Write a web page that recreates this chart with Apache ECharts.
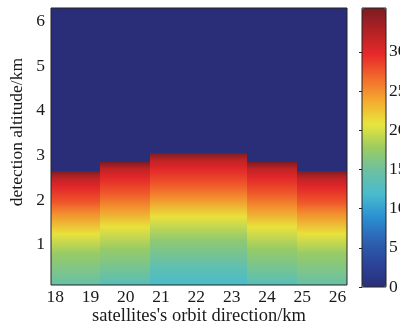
<!DOCTYPE html>
<html>
<head>
<meta charset="utf-8">
<script src="https://cdn.jsdelivr.net/npm/echarts@6/dist/echarts.min.js"></script>
<style>
  html, body { margin: 0; padding: 0; background: #fff; }
  #chart { width: 400px; height: 328px; }
</style>
</head>
<body>
<div id="chart"></div>
<script>
// column edges along orbit (km) and cutoff altitude of each column (km)
var colX0 = [17.88, 19.28, 20.70, 23.44, 24.86];
var colX1 = [19.28, 20.70, 23.44, 24.86, 26.27];
var colTop = [2.66, 2.85, 3.06, 2.85, 2.66];
var profAlt = [
  [0.1, 0.8, 1.25, 1.7, 1.95, 2.3, 2.5, 2.66],
  [0.1, 0.9, 1.4, 1.85, 2.15, 2.5, 2.7, 2.85],
  [0.1, 0.5, 1.1, 1.63, 2.05, 2.35, 2.7, 2.9, 3.06],
  [0.1, 0.9, 1.4, 1.85, 2.15, 2.5, 2.7, 2.85],
  [0.1, 0.8, 1.25, 1.7, 1.95, 2.3, 2.5, 2.66]
];
var profVal = [
  [14.5, 17.5, 21, 25, 27.5, 30, 32, 35.5],
  [13.2, 17.5, 21, 25, 27.5, 30, 32, 35.5],
  [12, 13.8, 17, 21, 25, 27.5, 30, 32, 35.5],
  [13.2, 17.5, 21, 25, 27.5, 30, 32, 35.5],
  [14.5, 17.5, 21, 25, 27.5, 30, 32, 35.5]
];
var aboveVal = 0;   // value above the cutoff
var xTicks = [18, 19, 20, 21, 22, 23, 24, 25, 26];
var yTicks = [1, 2, 3, 4, 5, 6];
var cbTicks = [0, 5, 10, 15, 20, 25, 30];
var xMin = 17.88, xMax = 26.27, yMin = 0.1, yMax = 6.3;
var cbMin = 0, cbMax = 35.6;
var jet = ['#2a2e78', '#2b449a', '#2d62b2', '#2a90d2', '#48bccc', '#6cc0a2', '#9ccc60',
           '#e8e63c', '#f4aa30', '#f26a2c', '#e8282a', '#b22224', '#7a1c22'];

function hexRgb(h) { return [parseInt(h.substr(1, 2), 16), parseInt(h.substr(3, 2), 16), parseInt(h.substr(5, 2), 16)]; }
function cmap(v) {
  var t = Math.max(0, Math.min(1, (v - cbMin) / (cbMax - cbMin))) * (jet.length - 1);
  var i = Math.min(Math.floor(t), jet.length - 2), f = t - i;
  var a = hexRgb(jet[i]), b = hexRgb(jet[i + 1]);
  return 'rgb(' + [0, 1, 2].map(function(k) { return Math.round(a[k] + (b[k] - a[k]) * f); }).join(',') + ')';
}

var font = '"Liberation Serif", "DejaVu Serif", serif';
var ink = '#1a1a1a';
var colData = colX0.map(function(x0, i) { return [x0, colX1[i], i]; });

var chart = echarts.init(document.getElementById('chart'), null, { renderer: 'canvas' });
chart.setOption({
  animation: false,
  backgroundColor: '#fff',
  textStyle: { fontFamily: font },
  grid: [
    { left: 51, right: 53, top: 8, bottom: 43, show: true, borderColor: '#222', borderWidth: 1, z: 10,
      outerBoundsMode: 'none', containLabel: false },
    { left: 362, width: 24, top: 8, height: 279, show: true, borderColor: '#222', borderWidth: 1, z: 10,
      outerBoundsMode: 'none', containLabel: false }
  ],
  graphic: [{
    type: 'text', left: 8, top: 58, rotation: Math.PI / 2,
    style: { text: 'detection altitude/km', fontSize: 17.5, fill: ink, fontFamily: font }
  }],
  visualMap: {
    type: 'continuous', min: cbMin, max: cbMax, dimension: 2, seriesIndex: 0,
    left: 362, top: 8, itemWidth: 24, itemHeight: 279, padding: 0,
    calculable: false, text: null, showLabel: false,
    inRange: { color: jet }
  },
  xAxis: [
    { type: 'value', gridIndex: 0, min: xMin, max: xMax, position: 'bottom',
      name: "satellites's orbit direction/km", nameLocation: 'middle', nameGap: 22, nameMoveOverlap: false,
      nameTextStyle: { fontSize: 18.5, color: ink, fontFamily: font },
      axisLine: { show: false }, splitLine: { show: false },
      axisTick: { inside: true, length: 4, lineStyle: { color: '#222' }, customValues: xTicks },
      axisLabel: { fontSize: 17.5, color: ink, margin: 3, fontFamily: font, customValues: xTicks } },
    { type: 'value', gridIndex: 1, show: false, min: 0, max: 1 }
  ],
  yAxis: [
    { type: 'value', gridIndex: 0, min: yMin, max: yMax,
      axisLine: { show: false }, splitLine: { show: false },
      axisTick: { inside: true, length: 4, lineStyle: { color: '#222' }, customValues: yTicks },
      axisLabel: { fontSize: 17.5, color: ink, margin: 6, fontFamily: font, customValues: yTicks } },
    { type: 'value', gridIndex: 1, min: cbMin, max: cbMax, position: 'right',
      axisLine: { show: false }, splitLine: { show: false },
      axisTick: { inside: true, length: 3, lineStyle: { color: '#222' }, customValues: cbTicks },
      axisLabel: { fontSize: 17.5, color: ink, margin: 3, fontFamily: font, customValues: cbTicks } }
  ],
  series: [{
    type: 'custom',
    xAxisIndex: 0, yAxisIndex: 0,
    encode: { x: [0, 1], y: 2 },
    data: colData,
    renderItem: function(params, api) {
      var i = api.value(2);
      var pBot = api.coord([api.value(0), yMin]);
      var pTop = api.coord([api.value(1), colTop[i]]);
      var pMax = api.coord([api.value(1), yMax]);
      var xl = Math.round(pBot[0]), xr = Math.round(pTop[0]);
      var yb = Math.round(pBot[1]), yt = Math.round(pTop[1]), ym = Math.round(pMax[1]);
      var stops = profAlt[i].map(function(a, k) {
        return { offset: (a - yMin) / (colTop[i] - yMin), color: cmap(profVal[i][k]) };
      });
      return {
        type: 'group',
        children: [
          { type: 'rect', shape: { x: xl, y: yt, width: xr - xl, height: yb - yt },
            style: { fill: new echarts.graphic.LinearGradient(0, 1, 0, 0, stops) } },
          { type: 'rect', shape: { x: xl, y: ym, width: xr - xl, height: yt - ym },
            style: { fill: cmap(aboveVal) } }
        ]
      };
    }
  }]
});
</script>
</body>
</html>
